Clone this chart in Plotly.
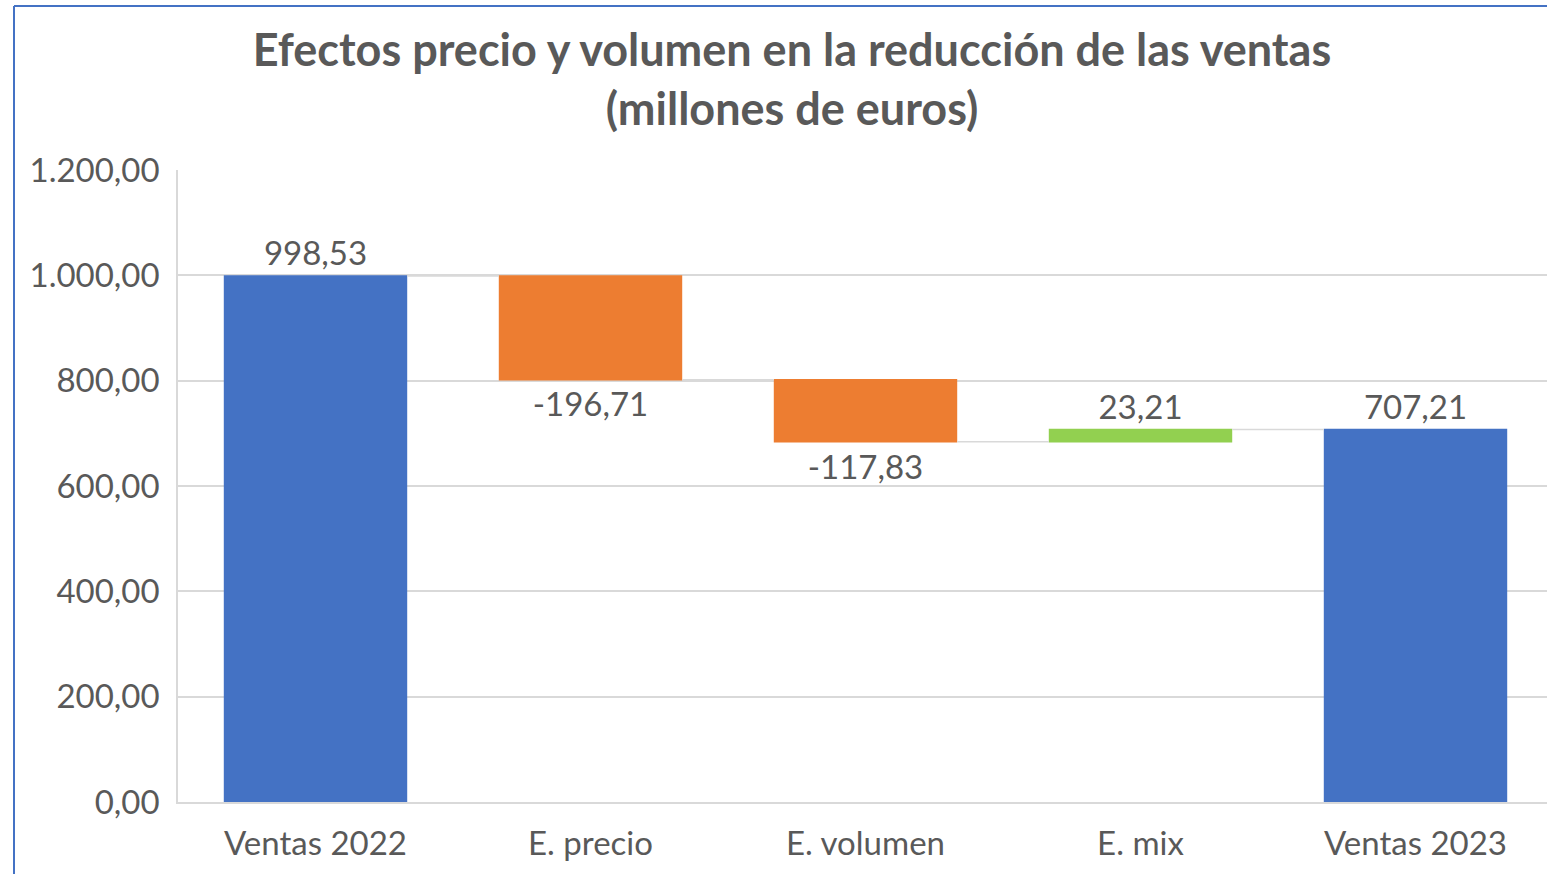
import plotly.graph_objects as go

categories = ["Ventas 2022", "E. precio", "E. volumen", "E. mix", "Ventas 2023"]
values = [998.53, -196.71, -117.83, 23.21, 707.21]
measures = ["absolute", "relative", "relative", "relative", "total"]
labels = ["998,53", "-196,71", "-117,83", "23,21", "707,21"]
tick_vals = [0, 200, 400, 600, 800, 1000, 1200]
tick_text = ["0,00", "200,00", "400,00", "600,00", "800,00", "1.000,00", "1.200,00"]

W, H = 1547, 874
L, R, T, B = 178, 0, 170, 72
pw, ph = W - L - R, H - T - B

def px_x(p):
    return (p - L) / pw

def px_y(p):
    return (H - B - p) / ph

font_family = "Lato, 'Open Sans', sans-serif"
gray = "#595959"

fig = go.Figure(go.Waterfall(
    x=categories,
    y=values,
    measure=measures,
    text=labels,
    textposition="outside",
    textfont=dict(size=33, color=gray, family=font_family),
    cliponaxis=False,
    increasing=dict(marker=dict(color="#92D050")),
    decreasing=dict(marker=dict(color="#ED7D31")),
    totals=dict(marker=dict(color="#4472C4")),
    connector=dict(line=dict(color="#D9D9D9", width=1.5)),
    hoverinfo="x+y",
))

fig.update_layout(
    width=W, height=H,
    margin=dict(l=L, r=R, t=T, b=B, pad=0),
    paper_bgcolor="white",
    plot_bgcolor="white",
    showlegend=False,
    waterfallgap=0.333,
    title=dict(
        text="<b>Efectos precio y volumen en la reducción de las ventas<br>(millones de euros)</b>",
        x=792 / W, xref="container", xanchor="center",
        y=1 - 66 / H, yref="container", yanchor="middle",
        font=dict(size=45, color=gray, family=font_family),
    ),
    xaxis=dict(
        range=[-0.5, -0.5 + pw / 275],
        showgrid=False,
        showline=True, linecolor="#D9D9D9", linewidth=1.5,
        ticks="", ticklabelstandoff=12,
        tickfont=dict(size=33, color=gray, family=font_family),
    ),
    yaxis=dict(
        range=[0, 1200],
        tickvals=tick_vals, ticktext=tick_text,
        showgrid=True, gridcolor="#D9D9D9", gridwidth=1.5,
        showline=True, linecolor="#D9D9D9", linewidth=1.5,
        zeroline=False,
        ticks="", ticklabelstandoff=10,
        tickfont=dict(size=33, color=gray, family=font_family),
    ),
    shapes=[
        dict(type="line", xref="paper", yref="paper",
             x0=px_x(14), x1=px_x(14), y0=px_y(6), y1=px_y(880),
             line=dict(color="#4472C4", width=2)),
        dict(type="line", xref="paper", yref="paper",
             x0=px_x(14), x1=px_x(1560), y0=px_y(6), y1=px_y(6),
             line=dict(color="#4472C4", width=2)),
    ],
)

fig.write_html(
    "out.html",
    config={"displayModeBar": False},
    post_script="document.body.style.margin='0';document.body.style.overflow='hidden';",
)
